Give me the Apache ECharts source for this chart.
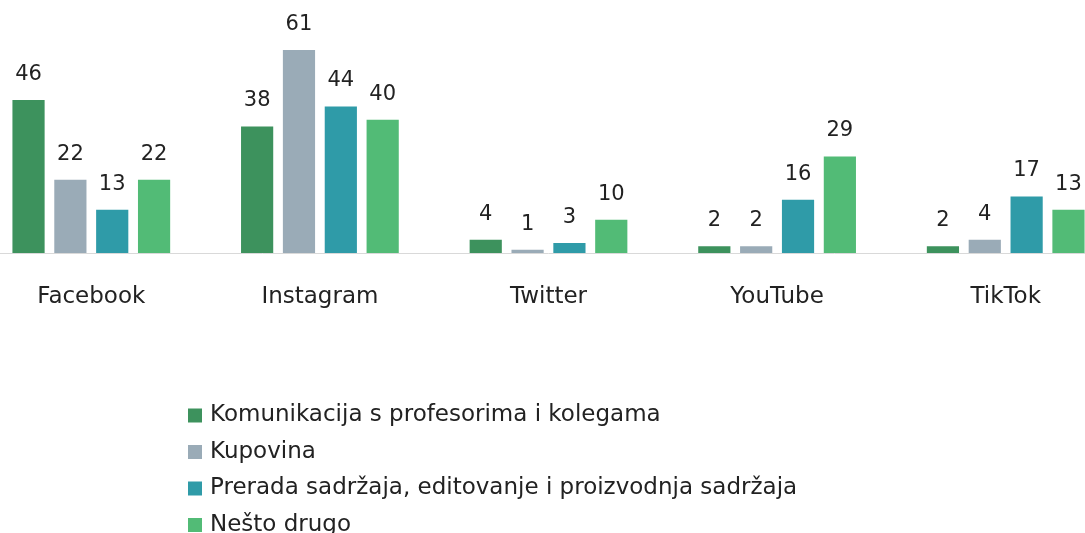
<!DOCTYPE html>
<html>
<head>
<meta charset="utf-8">
<script src="https://cdn.jsdelivr.net/npm/echarts@6/dist/echarts.min.js"></script>
<style>
  html, body { margin: 0; padding: 0; background: #fff; overflow: hidden; }
  /* the original is cropped on both sides, so the chart is wider than the window */
  #chartData { width: 1143px; height: 570px; margin-left: -23px; }
</style>
</head>
<body>
<div id="chartData"></div>
<script>
// platforme
var categories = ["Facebook", "Instagram", "Twitter", "YouTube", "TikTok"];
var seriesNames = [
  "Komunikacija s profesorima i kolegama",
  "Kupovina",
  "Prerada sadržaja, editovanje i proizvodnja sadržaja",
  "Nešto drugo"
];
var komunikacija = [46, 38, 4, 2, 2];
var kupovina = [22, 61, 1, 2, 4];
var prerada = [13, 44, 3, 16, 17];
var nestoDrugo = [22, 40, 10, 29, 13];

var colors = ["#3d925d", "#9aabb7", "#2f9ba8", "#52bb76"];
var font = "DejaVu Sans";

var myChart = echarts.init(document.getElementById("chartData"));

function makeSeries(name, data) {
  return {
    name: name,
    type: "bar",
    data: data,
    barGap: "30%",
    barCategoryGap: "31%",
    label: {
      show: true,
      position: "top",
      distance: 15,
      color: "#222",
      fontFamily: font,
      fontSize: 21
    }
  };
}

var option = {
  color: colors,
  animation: false,
  grid: {
    left: 0,
    right: 0,
    top: 20,
    bottom: 317,
    containLabel: false
  },
  legend: {
    orient: "vertical",
    left: 206,
    top: 399,
    height: 170,
    itemWidth: 14,
    itemHeight: 14,
    itemGap: 13.5,
    icon: "rect",
    textStyle: {
      color: "#222",
      fontFamily: font,
      fontSize: 23,
      lineHeight: 23,
      padding: [0, 0, 0, 3]
    },
    data: seriesNames
  },
  xAxis: {
    type: "category",
    data: categories,
    axisTick: { show: false },
    axisLine: { lineStyle: { color: "#d9d9d9", width: 1 } },
    axisLabel: {
      margin: 33,
      color: "#222",
      fontFamily: font,
      fontSize: 23
    }
  },
  yAxis: {
    type: "value",
    min: 0,
    max: 70,
    show: false,
    splitLine: { show: false }
  },
  series: [
    makeSeries(seriesNames[0], komunikacija),
    makeSeries(seriesNames[1], kupovina),
    makeSeries(seriesNames[2], prerada),
    makeSeries(seriesNames[3], nestoDrugo)
  ]
};
myChart.setOption(option, true);
</script>
</body>
</html>
